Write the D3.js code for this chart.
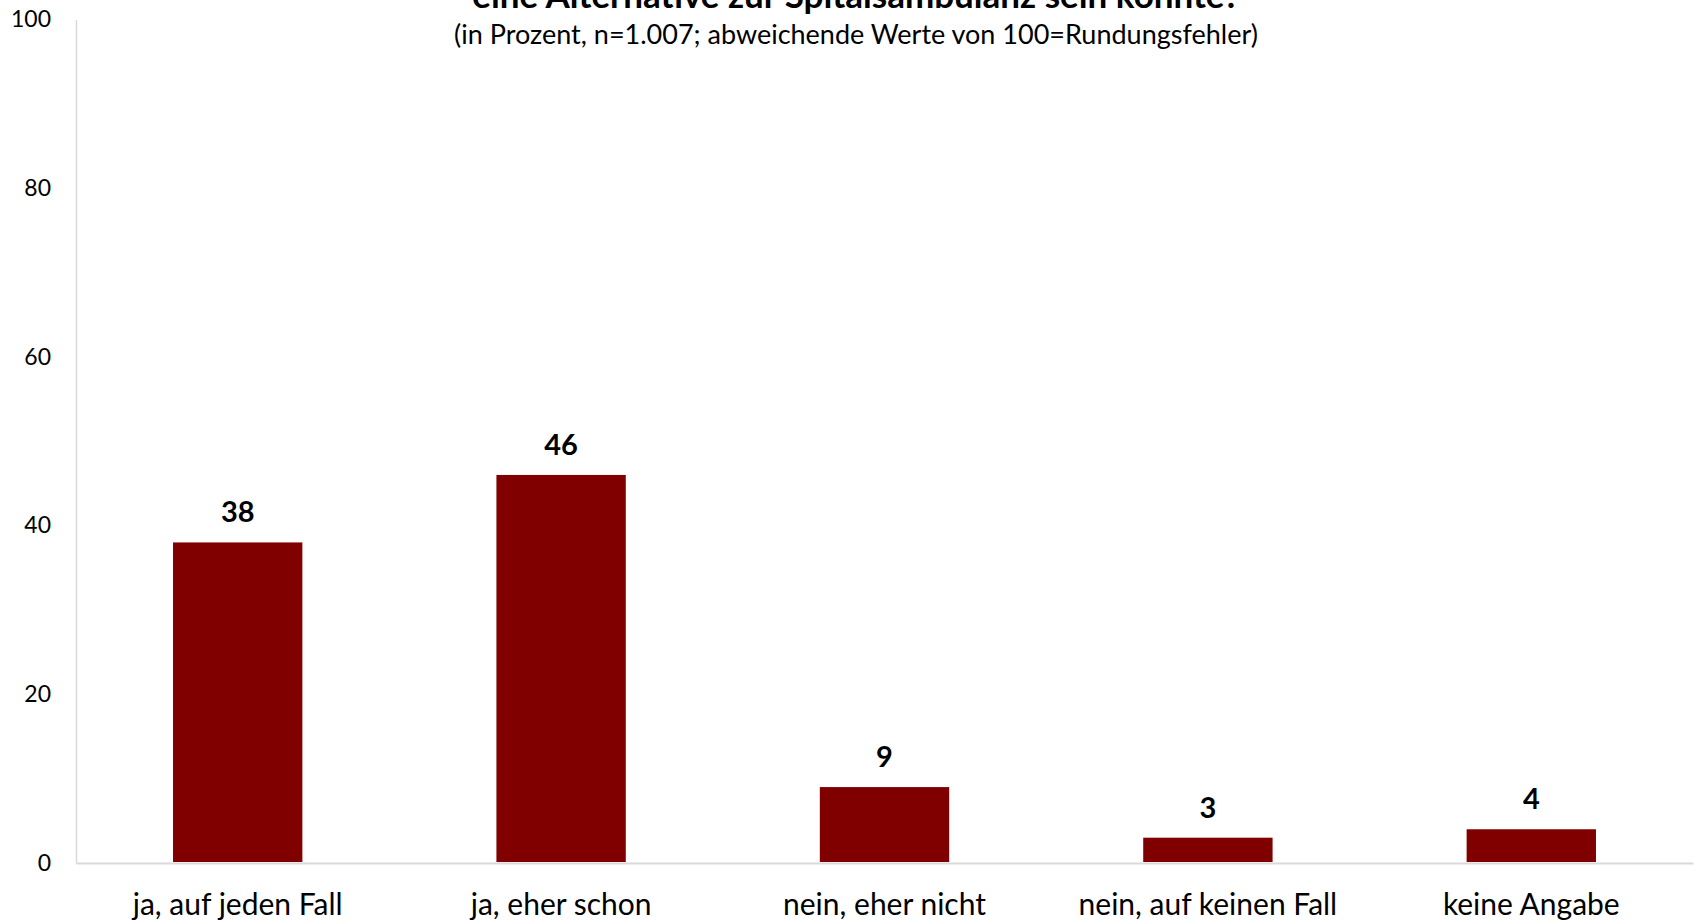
<!DOCTYPE html>
<html>
<head>
<meta charset="utf-8">
<script src="https://cdn.jsdelivr.net/npm/d3@7"></script>
<style>
  html, body { margin: 0; padding: 0; background: #ffffff; }
  svg { display: block; font-family: Lato, "Open Sans", sans-serif; }
</style>
</head>
<body>
<svg id="chart" width="1696" height="921"></svg>
<script>
// Survey answers and their shares (percent)
const categories = ["ja, auf jeden Fall", "ja, eher schon", "nein, eher nicht", "nein, auf keinen Fall", "keine Angabe"];
const values = [38, 46, 9, 3, 4];
const yTicks = [0, 20, 40, 60, 80, 100];
const titleLine = "eine Alternative zur Spitalsambulanz sein könnte?";
const subtitle = "(in Prozent, n=1.007; abweichende Werte von 100=Rundungsfehler)";

const svg = d3.select("#chart");
const plot = { left: 76, right: 1693, top: 19.4, bottom: 863 };

const x = d3.scaleBand()
  .domain(categories)
  .range([plot.left, plot.right])
  .paddingInner(0.6)
  .paddingOuter(0.3);

const y = d3.scaleLinear()
  .domain([0, 100])
  .range([plot.bottom, plot.top]);

// Title (last line, running into the top edge) and subtitle
svg.append("text")
  .attr("x", 856).attr("y", 8)
  .attr("text-anchor", "middle")
  .attr("font-size", 35).attr("font-weight", "bold").attr("fill", "#000")
  .text(titleLine);

svg.append("text")
  .attr("x", 856).attr("y", 44)
  .attr("text-anchor", "middle")
  .attr("font-size", 27).attr("fill", "#000")
  .text(subtitle);

// Y axis: line plus labels, no tick marks
const yAxis = svg.append("g")
  .attr("transform", `translate(${plot.left},0)`)
  .call(d3.axisLeft(y).tickValues(yTicks).tickSize(0).tickPadding(25));
yAxis.select(".domain").attr("stroke", "#d9d9d9").attr("stroke-width", 1.5);
yAxis.selectAll("text")
  .attr("font-size", 23).attr("fill", "#000")
  .attr("font-family", "Lato, sans-serif");

// X axis: baseline and category labels
const xAxis = svg.append("g")
  .attr("transform", `translate(0,${plot.bottom})`)
  .call(d3.axisBottom(x).tickSize(0).tickPadding(31));
xAxis.select(".domain").attr("stroke", "#d9d9d9").attr("stroke-width", 2);
xAxis.selectAll("text")
  .attr("font-size", 30).attr("fill", "#000")
  .attr("font-family", "Lato, sans-serif");

// Bars
const data = categories.map((c, i) => ({ c, v: values[i] }));
svg.append("g").selectAll("rect")
  .data(data).join("rect")
  .attr("x", d => x(d.c))
  .attr("y", d => y(d.v))
  .attr("width", x.bandwidth())
  .attr("height", d => y(0) - y(d.v) - 1)
  .attr("fill", "#800000");

// Value labels above bars
svg.append("g").selectAll("text")
  .data(data).join("text")
  .attr("x", d => x(d.c) + x.bandwidth() / 2)
  .attr("y", d => y(d.v) - 20)
  .attr("text-anchor", "middle")
  .attr("font-size", 29).attr("font-weight", "bold").attr("fill", "#000")
  .text(d => d.v);
</script>
</body>
</html>
